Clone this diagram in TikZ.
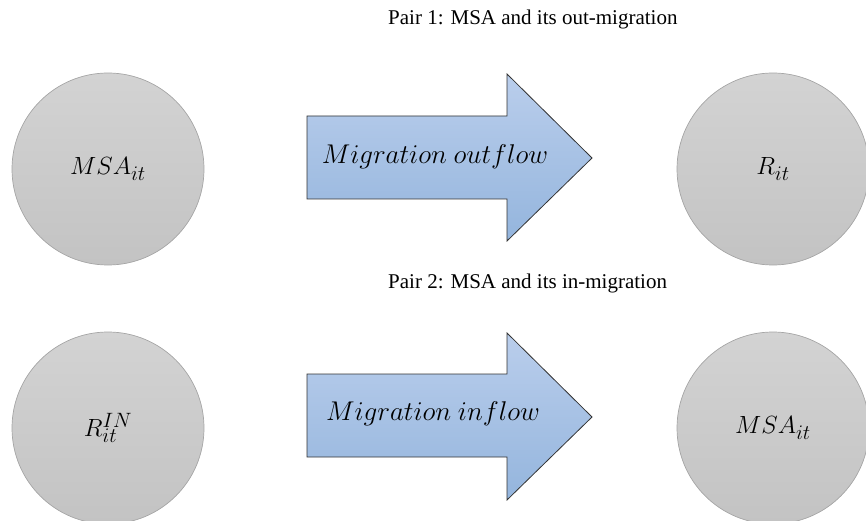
\documentclass[tikz,border=0pt]{standalone}
\usepackage{fontspec}
\setmainfont{Liberation Serif}
\definecolor{circtop}{RGB}{211,211,211}
\definecolor{circbot}{RGB}{195,195,195}
\definecolor{circedge}{RGB}{165,165,165}
\definecolor{flowtop}{RGB}{186,206,236}
\definecolor{flowbot}{RGB}{148,181,221}
\begin{document}
\begin{tikzpicture}[x=1pt,y=-1pt,
  circ/.style={circle,draw=circedge,line width=0.7pt,top color=circtop,bottom color=circbot,minimum size=192pt,inner sep=0pt,font=\Huge},
  flow/.style={draw=black!80,line width=0.8pt,top color=flowtop,bottom color=flowbot},
  flowtext/.style={inner sep=0pt,font=\Huge},
  pairtitle/.style={anchor=base west,inner sep=0pt,font=\fontsize{21}{25}\selectfont}]
\useasboundingbox (0,0) rectangle (866,521);
% pair 1
\node[pairtitle] (title1) at (388,25) {Pair 1: MSA and its out-migration};
\node[circ] (msa1) at (108,169) {$MSA_{it}$};
\node[circ] (r1) at (773,169) {$R_{it}$};
\draw[flow] (307,116) -- (507,116) -- (507,74) -- (592,158) -- (507,241) -- (507,199) -- (307,199) -- cycle;
\node[flowtext] (out) at (435,157) {\scalebox{1.09}{$Migration\ outflow$}};
% pair 2
\node[pairtitle] (title2) at (388,288) {Pair 2: MSA and its in-migration};
\node[circ] (r2) at (108,428) {$R_{it}^{IN}$};
\node[circ] (msa2) at (773,428) {$MSA_{it}$};
\draw[flow] (307,374) -- (507,374) -- (507,333) -- (592,417) -- (507,500) -- (507,457) -- (307,457) -- cycle;
\node[flowtext] (in) at (433,414) {\scalebox{1.09}{$Migration\ inflow$}};
\end{tikzpicture}
\end{document}
